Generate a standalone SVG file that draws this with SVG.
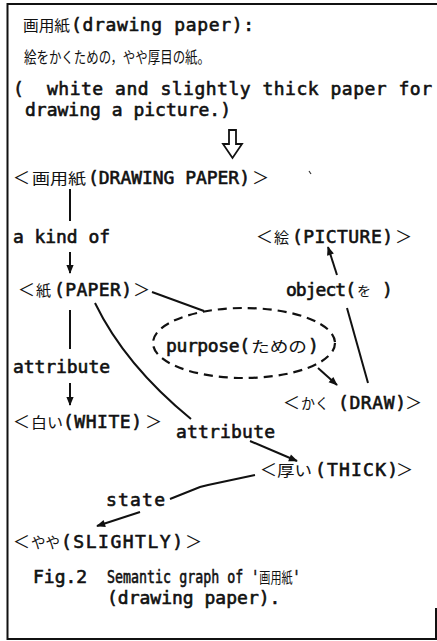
<svg xmlns="http://www.w3.org/2000/svg" width="437" height="641" viewBox="0 0 437 641">
<style>
  .lat { font-family: "DejaVu Sans Mono", monospace; font-size: 18px; fill: #111; stroke: #111; stroke-width: 0.6px; }
  .jp { font-family: "Noto Sans CJK JP", sans-serif; font-size: 15px; fill: #111; stroke: none; }
  .br { font-family: "Noto Sans CJK JP", sans-serif; font-size: 17px; fill: #111; }
  .ln { fill: none; stroke: #111; stroke-width: 2; }
  .dash { fill: none; stroke: #111; stroke-width: 2.2; stroke-dasharray: 9 6; }
</style>
<defs>
  <marker id="ah" viewBox="0 0 10 10" refX="9" refY="5" markerWidth="10" markerHeight="9" markerUnits="userSpaceOnUse" orient="auto">
    <path d="M0,1 L10,5 L0,9 Z" fill="#111"/>
  </marker>
</defs>
<rect width="437" height="641" fill="#fff"/>

<!-- frame -->
<path class="ln" d="M437,4 H7.5 V639 H437 M436,608 V639"/>

<!-- definition text -->
<g id="definition">
  <text class="jp" x="23" y="31" textLength="47" lengthAdjust="spacingAndGlyphs">画用紙</text>
  <text class="lat" x="71" y="31" textLength="183">(drawing paper):</text>
  <text class="jp" x="24" y="63" style="font-size:15.5px" textLength="186" lengthAdjust="spacingAndGlyphs">絵をかくための，やや厚目の紙。</text>
  <text class="lat" x="13" y="95" textLength="419" xml:space="preserve">(  white and slightly thick paper for</text>
  <text class="lat" x="25" y="116" textLength="206">drawing a picture.)</text>
  <path d="M229,130 V144 H223 L232.5,158 L242,144 H236 V130 Z" fill="none" stroke="#111" stroke-width="1.8"/>
  <path d="M309,171 L311,174" stroke="#333" stroke-width="1.2"/>
</g>

<!-- nodes -->
<g id="n-drawing-paper">
  <text class="br" x="13" y="184">＜</text>
  <text class="jp" x="32" y="184" textLength="54" lengthAdjust="spacingAndGlyphs">画用紙</text>
  <text class="lat" x="88" y="184" textLength="162">(DRAWING PAPER)</text>
  <text class="br" x="252" y="184">＞</text>
</g>
<g id="n-picture">
  <text class="br" x="256" y="243">＜</text>
  <text class="jp" x="274" y="243">絵</text>
  <text class="lat" x="292" y="243" textLength="101">(PICTURE)</text>
  <text class="br" x="395" y="243">＞</text>
</g>
<g id="n-paper">
  <text class="br" x="18" y="296">＜</text>
  <text class="jp" x="36" y="296">紙</text>
  <text class="lat" x="54" y="296" textLength="78">(PAPER)</text>
  <text class="br" x="133" y="296">＞</text>
</g>
<g id="n-purpose">
  <ellipse class="dash" cx="244" cy="343" rx="91" ry="35"/>
  <text class="lat" x="166" y="352" textLength="84">purpose(</text>
  <text class="jp" x="251" y="352" textLength="56" lengthAdjust="spacingAndGlyphs">ための</text>
  <text class="lat" x="308" y="352">)</text>
</g>
<g id="n-draw">
  <text class="br" x="283" y="409">＜</text>
  <text class="jp" x="301" y="409" textLength="28" lengthAdjust="spacingAndGlyphs">かく</text>
  <text class="lat" x="338" y="409" textLength="68">(DRAW)</text>
  <text class="br" x="405" y="409">＞</text>
</g>
<g id="n-white">
  <text class="br" x="13" y="428">＜</text>
  <text class="jp" x="31" y="428" textLength="32" lengthAdjust="spacingAndGlyphs">白い</text>
  <text class="lat" x="63" y="428" textLength="79">(WHITE)</text>
  <text class="br" x="145" y="428">＞</text>
</g>
<g id="n-thick">
  <text class="br" x="260" y="476">＜</text>
  <text class="jp" x="277" y="476" textLength="35" lengthAdjust="spacingAndGlyphs">厚い</text>
  <text class="lat" x="315" y="476" textLength="83">(THICK)</text>
  <text class="br" x="396" y="476">＞</text>
</g>
<g id="n-slightly">
  <text class="br" x="13" y="548">＜</text>
  <text class="jp" x="31" y="548" textLength="29" lengthAdjust="spacingAndGlyphs">やや</text>
  <text class="lat" x="61" y="548" textLength="122">(SLIGHTLY)</text>
  <text class="br" x="185" y="548">＞</text>
</g>

<!-- connectors with their relation labels -->
<g id="connectors">
  <path class="ln" d="M70,189 V221"/>
  <text class="lat" x="13" y="243" textLength="97">a kind of</text>
  <path class="ln" d="M70,252 V273" marker-end="url(#ah)"/>

  <path class="ln" d="M70,310 V349"/>
  <text class="lat" x="13" y="373" textLength="97">attribute</text>
  <path class="ln" d="M70,383 V405" marker-end="url(#ah)"/>

  <path class="ln" d="M152,292 L204,311"/>
  <path class="ln" d="M318,368 L337,385" marker-end="url(#ah)"/>

  <path class="ln" d="M368,383 L347,308"/>
  <text class="lat" x="286" y="296" textLength="70">object(</text>
  <text class="jp" x="357" y="296" style="font-size:14px">を</text>
  <text class="lat" x="382" y="296">)</text>
  <path class="ln" d="M337,275 L328,247" marker-end="url(#ah)"/>

  <path class="ln" d="M95,303 Q125,365 191,419"/>
  <text class="lat" x="176" y="438" textLength="99">attribute</text>
  <path class="ln" d="M250,441 L297,461" marker-end="url(#ah)"/>

  <path class="ln" d="M255,475 L208,485 L200,487 L170,499"/>
  <text class="lat" x="106" y="506" textLength="59">state</text>
  <path class="ln" d="M140,512 L97,526" marker-end="url(#ah)"/>
</g>

<!-- caption -->
<g id="caption">
  <text class="lat" x="33" y="583">Fig.2</text>
  <text transform="translate(107,583) scale(0.74,1)"><tspan class="lat">Semantic graph of '</tspan><tspan class="jp">画用紙</tspan><tspan class="lat">'</tspan></text>
  <text class="lat" x="107" y="604">(drawing paper).</text>
</g>
</svg>
